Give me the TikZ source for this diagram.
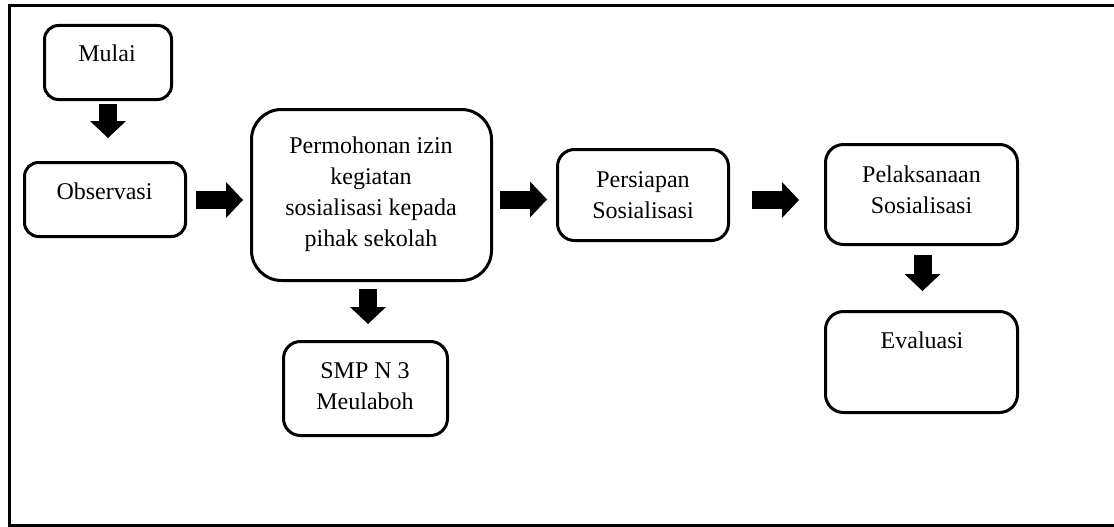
\documentclass[tikz,border=0pt]{standalone}
\usepackage{fontspec}
\setmainfont{Liberation Serif}
\usetikzlibrary{arrows.meta,calc}
\tikzset{
  box/.style={draw, line width=3pt, rounded corners=#1, inner sep=0pt},
  box/.default=15pt,
  txt/.style={align=center, inner sep=0pt, anchor=base, font=\fontsize{24}{31}\selectfont},
  barrow/.style={line width=18pt, line cap=butt,
    -{Triangle[length=17pt,width=36pt,line width=0pt]}}
}
\begin{document}
\begin{tikzpicture}[x=1pt,y=-1pt]
\useasboundingbox (0,0) rectangle (1114,527);
% outer frame (open on the right)
\draw[line width=3pt] (1114,6) -- (9.5,6) -- (9.5,525.5) -- (1114,525.5);

% boxes
\node[box=14pt, minimum width=127pt, minimum height=74pt] (mulai) at (108,62.5) {};
\node[box=14pt, minimum width=161pt, minimum height=74pt] (obs) at (105,199.5) {};
\node[box=30pt, minimum width=240pt, minimum height=171pt] (perm) at (371.5,195) {};
\node[box=17pt, minimum width=164pt, minimum height=94pt] (smp) at (365.5,388.5) {};
\node[box=17pt, minimum width=171pt, minimum height=91pt] (pers) at (643,195) {};
\node[box=18pt, minimum width=192pt, minimum height=100pt] (pel) at (921.5,194.5) {};
\node[box=18pt, minimum width=192pt, minimum height=101pt] (eval) at (921.5,362) {};

% texts (base anchor = baseline of the last line)
\node[txt] (mulait) at (107,62) {Mulai};
\node[txt] (obst) at (104.5,199) {Observasi};
\node[txt] (permt) at (371,246.5) {Permohonan izin\\kegiatan\\sosialisasi kepada\\pihak sekolah};
\node[txt] (smpt) at (365,409) {SMP N 3\\Meulaboh};
\node[txt] (perst) at (643,218.5) {Persiapan\\Sosialisasi};
\node[txt] (pelt) at (921.5,213) {Pelaksanaan\\Sosialisasi};
\node[txt] (evalt) at (922,348) {Evaluasi};

% block arrows
\draw[barrow, shorten <=3pt, shorten >=23pt] (mulai.south) -- (mulai.south |- obs.north);
\draw[barrow, shorten <=9pt, shorten >=7pt] ($(obs.east)+(0,0.5)$) -- ($(obs.east -| perm.west)+(0,0.5)$);
\draw[barrow, shorten <=7pt, shorten >=9pt] (perm.east |- obs.east) -- (pers.west |- obs.east);
\draw[barrow, shorten <=22pt, shorten >=25pt] ($(pers.east |- obs.east)+(0,0.5)$) -- ($(pel.west |- obs.east)+(0,0.5)$);
\draw[barrow, shorten <=7pt, shorten >=16pt] ($(perm.south)+(-3.5,0)$) -- ($(perm.south |- smp.north)+(-3.5,0)$);
\draw[barrow, shorten <=9pt, shorten >=19pt] ($(pel.south)+(1,0)$) -- ($(eval.north)+(1,0)$);
\end{tikzpicture}
\end{document}
